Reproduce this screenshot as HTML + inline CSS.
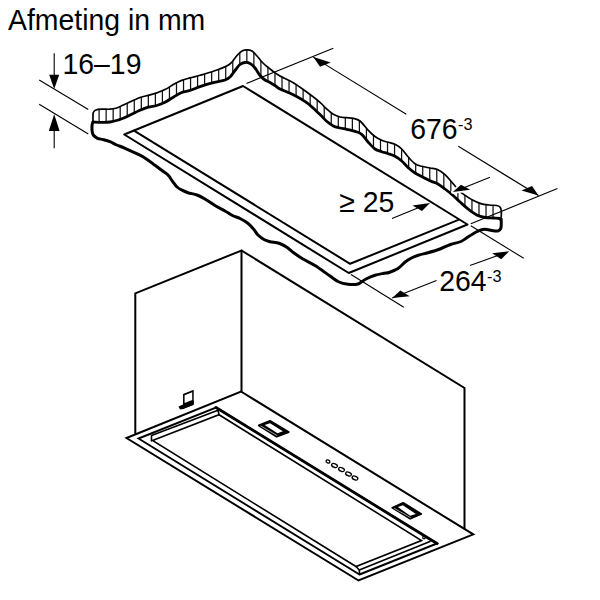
<!DOCTYPE html>
<html><head><meta charset="utf-8"><style>
html,body{margin:0;padding:0;background:#fff;width:600px;height:600px;overflow:hidden}
svg{display:block}
</style></head><body>
<svg width="600" height="600" viewBox="0 0 600 600">
<defs><clipPath id="band"><path d="M93.00,122.00 C93.00,121.17 92.95,118.58 93.00,117.00 C93.05,115.42 92.83,113.67 93.30,112.50 C93.77,111.33 94.40,110.55 95.80,110.00 C97.20,109.45 99.33,109.33 101.70,109.20 C104.07,109.07 107.65,109.35 110.00,109.20 C112.35,109.05 114.00,108.79 115.80,108.30 C117.60,107.81 119.27,106.93 120.80,106.25 C122.33,105.57 121.80,105.66 125.00,104.20 C128.20,102.74 136.12,98.97 140.00,97.50 C143.88,96.03 145.52,96.17 148.30,95.40 C151.08,94.63 153.92,93.87 156.70,92.90 C159.48,91.93 162.23,90.98 165.00,89.60 C167.77,88.22 170.52,86.13 173.30,84.60 C176.08,83.07 178.92,81.52 181.70,80.40 C184.48,79.28 186.95,78.75 190.00,77.90 C193.05,77.05 196.12,76.40 200.00,75.30 C203.88,74.20 208.85,72.85 213.30,71.30 C217.75,69.75 223.58,67.55 226.70,66.00 C229.82,64.45 230.28,63.75 232.00,62.00 C233.72,60.25 235.33,57.33 237.00,55.50 C238.67,53.67 240.33,51.95 242.00,51.00 C243.67,50.05 245.33,49.80 247.00,49.80 C248.67,49.80 250.33,49.97 252.00,51.00 C253.67,52.03 255.33,54.17 257.00,56.00 C258.67,57.83 260.33,60.25 262.00,62.00 C263.67,63.75 265.33,65.08 267.00,66.50 C268.67,67.92 269.83,68.92 272.00,70.50 C274.17,72.08 276.45,73.97 280.00,76.00 C283.55,78.03 288.85,80.03 293.30,82.70 C297.75,85.37 302.25,88.73 306.70,92.00 C311.15,95.27 316.67,99.47 320.00,102.30 C323.33,105.13 324.48,107.00 326.70,109.00 C328.92,111.00 331.08,112.97 333.30,114.30 C335.52,115.63 337.77,116.43 340.00,117.00 C342.23,117.57 344.48,117.48 346.70,117.70 C348.92,117.92 351.08,117.75 353.30,118.30 C355.52,118.85 357.50,119.00 360.00,121.00 C362.50,123.00 365.80,127.72 368.30,130.30 C370.80,132.88 372.77,134.83 375.00,136.50 C377.23,138.17 379.48,139.33 381.70,140.30 C383.92,141.27 386.08,141.63 388.30,142.30 C390.52,142.97 392.77,143.18 395.00,144.30 C397.23,145.42 399.48,146.88 401.70,149.00 C403.92,151.12 406.08,154.55 408.30,157.00 C410.52,159.45 412.77,162.15 415.00,163.70 C417.23,165.25 419.20,165.58 421.70,166.30 C424.20,167.02 427.37,167.47 430.00,168.00 C432.63,168.53 435.00,168.38 437.50,169.50 C440.00,170.62 442.50,172.45 445.00,174.70 C447.50,176.95 450.00,180.20 452.50,183.00 C455.00,185.80 457.78,189.37 460.00,191.50 C462.22,193.63 463.72,194.38 465.80,195.80 C467.88,197.22 470.00,198.70 472.50,200.00 C475.00,201.30 478.02,202.77 480.80,203.60 C483.58,204.43 486.55,204.68 489.20,205.00 C491.85,205.32 494.90,205.17 496.70,205.50 C498.50,205.83 499.24,206.17 500.00,207.00 C500.76,207.83 501.04,208.83 501.25,210.50 C501.46,212.17 501.25,215.92 501.25,217.00 L501.25,219 L499,218.3 L493.3,218 L485,217.5 L476.7,215 L468.3,209.2 L460,202 L452.5,195 L445,189 L437.5,183.7 L430,180.7 L415,173 L408.3,167.7 L401.7,161 L395,156.3 L388.3,153.7 L381.7,151.7 L375,149 L368.3,142.3 L361.7,134.3 L355,131.3 L346.7,129.3 L340,128 L333.3,126 L326.7,121.3 L320,114.5 L306.7,102.7 L293.3,94.7 L280,89 L275,85.5 L270,82.5 L265,80 L260,75.5 L255,68 L250,63.5 L245,62.5 L240,64.5 L235,70.5 L230,77 L225,80 L213.3,82.7 L200,86.7 L190,90.4 L181.7,92.5 L173.3,97.2 L165,102.3 L156.7,105.5 L148.3,107.1 L140,110.3 L125,117.5 L118.3,120 L110,122 L101.7,122.3 L93,122 Z"/></clipPath></defs>
<g fill="none" stroke="#000" stroke-linecap="round" stroke-linejoin="round">
 <!-- band hatch -->
 <g clip-path="url(#band)" stroke="#111" stroke-width="1.25"><line x1="99.10" y1="40" x2="99.10" y2="240"/><line x1="106.13" y1="40" x2="106.13" y2="240"/><line x1="113.17" y1="40" x2="113.17" y2="240"/><line x1="120.20" y1="40" x2="120.20" y2="240"/><line x1="127.24" y1="40" x2="127.24" y2="240"/><line x1="134.27" y1="40" x2="134.27" y2="240"/><line x1="141.31" y1="40" x2="141.31" y2="240"/><line x1="148.34" y1="40" x2="148.34" y2="240"/><line x1="155.38" y1="40" x2="155.38" y2="240"/><line x1="162.41" y1="40" x2="162.41" y2="240"/><line x1="169.45" y1="40" x2="169.45" y2="240"/><line x1="176.49" y1="40" x2="176.49" y2="240"/><line x1="183.52" y1="40" x2="183.52" y2="240"/><line x1="190.56" y1="40" x2="190.56" y2="240"/><line x1="197.59" y1="40" x2="197.59" y2="240"/><line x1="204.62" y1="40" x2="204.62" y2="240"/><line x1="211.66" y1="40" x2="211.66" y2="240"/><line x1="218.69" y1="40" x2="218.69" y2="240"/><line x1="225.73" y1="40" x2="225.73" y2="240"/><line x1="232.76" y1="40" x2="232.76" y2="240"/><line x1="239.80" y1="40" x2="239.80" y2="240"/><line x1="246.84" y1="40" x2="246.84" y2="240"/><line x1="253.87" y1="40" x2="253.87" y2="240"/><line x1="260.90" y1="40" x2="260.90" y2="240"/><line x1="267.94" y1="40" x2="267.94" y2="240"/><line x1="274.98" y1="40" x2="274.98" y2="240"/><line x1="282.01" y1="40" x2="282.01" y2="240"/><line x1="289.04" y1="40" x2="289.04" y2="240"/><line x1="296.08" y1="40" x2="296.08" y2="240"/><line x1="303.12" y1="40" x2="303.12" y2="240"/><line x1="310.15" y1="40" x2="310.15" y2="240"/><line x1="317.19" y1="40" x2="317.19" y2="240"/><line x1="324.22" y1="40" x2="324.22" y2="240"/><line x1="331.25" y1="40" x2="331.25" y2="240"/><line x1="338.29" y1="40" x2="338.29" y2="240"/><line x1="345.32" y1="40" x2="345.32" y2="240"/><line x1="352.36" y1="40" x2="352.36" y2="240"/><line x1="359.39" y1="40" x2="359.39" y2="240"/><line x1="366.43" y1="40" x2="366.43" y2="240"/><line x1="373.47" y1="40" x2="373.47" y2="240"/><line x1="380.50" y1="40" x2="380.50" y2="240"/><line x1="387.53" y1="40" x2="387.53" y2="240"/><line x1="394.57" y1="40" x2="394.57" y2="240"/><line x1="401.61" y1="40" x2="401.61" y2="240"/><line x1="408.64" y1="40" x2="408.64" y2="240"/><line x1="415.67" y1="40" x2="415.67" y2="240"/><line x1="422.71" y1="40" x2="422.71" y2="240"/><line x1="429.75" y1="40" x2="429.75" y2="240"/><line x1="436.78" y1="40" x2="436.78" y2="240"/><line x1="443.82" y1="40" x2="443.82" y2="240"/><line x1="450.85" y1="40" x2="450.85" y2="240"/><line x1="457.88" y1="40" x2="457.88" y2="240"/><line x1="464.92" y1="40" x2="464.92" y2="240"/><line x1="471.96" y1="40" x2="471.96" y2="240"/><line x1="478.99" y1="40" x2="478.99" y2="240"/><line x1="486.02" y1="40" x2="486.02" y2="240"/><line x1="493.06" y1="40" x2="493.06" y2="240"/></g>
 <path d="M93.00,122.00 C93.00,121.17 92.95,118.58 93.00,117.00 C93.05,115.42 92.83,113.67 93.30,112.50 C93.77,111.33 94.40,110.55 95.80,110.00 C97.20,109.45 99.33,109.33 101.70,109.20 C104.07,109.07 107.65,109.35 110.00,109.20 C112.35,109.05 114.00,108.79 115.80,108.30 C117.60,107.81 119.27,106.93 120.80,106.25 C122.33,105.57 121.80,105.66 125.00,104.20 C128.20,102.74 136.12,98.97 140.00,97.50 C143.88,96.03 145.52,96.17 148.30,95.40 C151.08,94.63 153.92,93.87 156.70,92.90 C159.48,91.93 162.23,90.98 165.00,89.60 C167.77,88.22 170.52,86.13 173.30,84.60 C176.08,83.07 178.92,81.52 181.70,80.40 C184.48,79.28 186.95,78.75 190.00,77.90 C193.05,77.05 196.12,76.40 200.00,75.30 C203.88,74.20 208.85,72.85 213.30,71.30 C217.75,69.75 223.58,67.55 226.70,66.00 C229.82,64.45 230.28,63.75 232.00,62.00 C233.72,60.25 235.33,57.33 237.00,55.50 C238.67,53.67 240.33,51.95 242.00,51.00 C243.67,50.05 245.33,49.80 247.00,49.80 C248.67,49.80 250.33,49.97 252.00,51.00 C253.67,52.03 255.33,54.17 257.00,56.00 C258.67,57.83 260.33,60.25 262.00,62.00 C263.67,63.75 265.33,65.08 267.00,66.50 C268.67,67.92 269.83,68.92 272.00,70.50 C274.17,72.08 276.45,73.97 280.00,76.00 C283.55,78.03 288.85,80.03 293.30,82.70 C297.75,85.37 302.25,88.73 306.70,92.00 C311.15,95.27 316.67,99.47 320.00,102.30 C323.33,105.13 324.48,107.00 326.70,109.00 C328.92,111.00 331.08,112.97 333.30,114.30 C335.52,115.63 337.77,116.43 340.00,117.00 C342.23,117.57 344.48,117.48 346.70,117.70 C348.92,117.92 351.08,117.75 353.30,118.30 C355.52,118.85 357.50,119.00 360.00,121.00 C362.50,123.00 365.80,127.72 368.30,130.30 C370.80,132.88 372.77,134.83 375.00,136.50 C377.23,138.17 379.48,139.33 381.70,140.30 C383.92,141.27 386.08,141.63 388.30,142.30 C390.52,142.97 392.77,143.18 395.00,144.30 C397.23,145.42 399.48,146.88 401.70,149.00 C403.92,151.12 406.08,154.55 408.30,157.00 C410.52,159.45 412.77,162.15 415.00,163.70 C417.23,165.25 419.20,165.58 421.70,166.30 C424.20,167.02 427.37,167.47 430.00,168.00 C432.63,168.53 435.00,168.38 437.50,169.50 C440.00,170.62 442.50,172.45 445.00,174.70 C447.50,176.95 450.00,180.20 452.50,183.00 C455.00,185.80 457.78,189.37 460.00,191.50 C462.22,193.63 463.72,194.38 465.80,195.80 C467.88,197.22 470.00,198.70 472.50,200.00 C475.00,201.30 478.02,202.77 480.80,203.60 C483.58,204.43 486.55,204.68 489.20,205.00 C491.85,205.32 494.90,205.17 496.70,205.50 C498.50,205.83 499.24,206.17 500.00,207.00 C500.76,207.83 501.04,208.83 501.25,210.50 C501.46,212.17 501.25,215.92 501.25,217.00" stroke-width="1.7"/>
 <path d="M93.00,122.00 C92.85,122.50 92.25,123.53 92.10,125.00 C91.95,126.47 91.90,129.13 92.10,130.80 C92.30,132.47 92.40,133.75 93.30,135.00 C94.20,136.25 95.83,137.53 97.50,138.30 C99.17,139.07 101.22,139.03 103.30,139.60 C105.38,140.17 107.77,140.80 110.00,141.70 C112.23,142.60 114.20,143.90 116.70,145.00 C119.20,146.10 121.12,146.60 125.00,148.30 C128.88,150.00 136.25,153.30 140.00,155.20 C143.75,157.10 145.00,158.02 147.50,159.70 C150.00,161.38 152.58,163.50 155.00,165.30 C157.42,167.10 159.83,168.88 162.00,170.50 C164.17,172.12 166.17,173.08 168.00,175.00 C169.83,176.92 171.50,180.00 173.00,182.00 C174.50,184.00 175.50,185.63 177.00,187.00 C178.50,188.37 180.17,189.25 182.00,190.20 C183.83,191.15 185.50,191.90 188.00,192.70 C190.50,193.50 194.25,194.00 197.00,195.00 C199.75,196.00 201.50,196.95 204.50,198.70 C207.50,200.45 211.58,203.45 215.00,205.50 C218.42,207.55 222.08,209.33 225.00,211.00 C227.92,212.67 230.00,214.25 232.50,215.50 C235.00,216.75 237.50,217.25 240.00,218.50 C242.50,219.75 245.25,221.25 247.50,223.00 C249.75,224.75 251.75,227.00 253.50,229.00 C255.25,231.00 256.25,233.25 258.00,235.00 C259.75,236.75 262.00,238.38 264.00,239.50 C266.00,240.62 267.50,241.08 270.00,241.70 C272.50,242.32 276.25,242.32 279.00,243.20 C281.75,244.08 284.00,245.37 286.50,247.00 C289.00,248.63 291.25,251.00 294.00,253.00 C296.75,255.00 299.50,256.92 303.00,259.00 C306.50,261.08 310.50,262.67 315.00,265.50 C319.50,268.33 326.00,273.25 330.00,276.00 C334.00,278.75 336.00,280.62 339.00,282.00 C342.00,283.38 345.00,283.88 348.00,284.25 C351.00,284.62 354.75,284.62 357.00,284.25 C359.25,283.88 360.00,282.88 361.50,282.00 C363.00,281.12 363.75,280.12 366.00,279.00 C368.25,277.88 372.00,276.25 375.00,275.30 C378.00,274.35 381.67,273.77 384.00,273.30 C386.33,272.83 386.67,273.30 389.00,272.50 C391.33,271.70 395.25,270.29 398.00,268.50 C400.75,266.71 403.25,263.50 405.50,261.75 C407.75,260.00 409.25,259.12 411.50,258.00 C413.75,256.88 416.25,255.88 419.00,255.00 C421.75,254.12 424.50,253.75 428.00,252.75 C431.50,251.75 436.25,250.38 440.00,249.00 C443.75,247.62 447.00,245.75 450.50,244.50 C454.00,243.25 458.03,242.80 461.00,241.50 C463.97,240.20 465.68,238.33 468.30,236.70 C470.92,235.07 474.62,232.82 476.70,231.70 C478.78,230.58 479.42,230.42 480.80,230.00 C482.18,229.58 482.92,229.07 485.00,229.20 C487.08,229.33 491.08,230.53 493.30,230.80 C495.52,231.07 497.05,231.22 498.30,230.80 C499.55,230.38 500.31,229.40 500.80,228.30 C501.29,227.20 501.22,225.58 501.25,224.20 C501.28,222.82 501.38,220.98 501.00,220.00 C500.62,219.02 499.33,218.58 499.00,218.30" stroke-width="3"/>
 <path d="M93.00,122.00 C94.45,122.05 98.87,122.30 101.70,122.30 C104.53,122.30 107.23,122.38 110.00,122.00 C112.77,121.62 115.80,120.75 118.30,120.00 C120.80,119.25 121.38,119.12 125.00,117.50 C128.62,115.88 136.12,112.03 140.00,110.30 C143.88,108.57 145.52,107.90 148.30,107.10 C151.08,106.30 153.92,106.30 156.70,105.50 C159.48,104.70 162.23,103.68 165.00,102.30 C167.77,100.92 170.52,98.83 173.30,97.20 C176.08,95.57 178.92,93.63 181.70,92.50 C184.48,91.37 186.95,91.37 190.00,90.40 C193.05,89.43 196.12,87.98 200.00,86.70 C203.88,85.42 209.13,83.82 213.30,82.70 C217.47,81.58 222.22,80.95 225.00,80.00 C227.78,79.05 228.33,78.58 230.00,77.00 C231.67,75.42 233.33,72.58 235.00,70.50 C236.67,68.42 238.33,65.83 240.00,64.50 C241.67,63.17 243.33,62.67 245.00,62.50 C246.67,62.33 248.33,62.58 250.00,63.50 C251.67,64.42 253.33,66.00 255.00,68.00 C256.67,70.00 258.33,73.50 260.00,75.50 C261.67,77.50 263.33,78.83 265.00,80.00 C266.67,81.17 268.33,81.58 270.00,82.50 C271.67,83.42 273.33,84.42 275.00,85.50 C276.67,86.58 276.95,87.47 280.00,89.00 C283.05,90.53 288.85,92.42 293.30,94.70 C297.75,96.98 302.25,99.40 306.70,102.70 C311.15,106.00 316.67,111.40 320.00,114.50 C323.33,117.60 324.48,119.38 326.70,121.30 C328.92,123.22 331.08,124.88 333.30,126.00 C335.52,127.12 337.77,127.45 340.00,128.00 C342.23,128.55 344.20,128.75 346.70,129.30 C349.20,129.85 352.50,130.47 355.00,131.30 C357.50,132.13 359.48,132.47 361.70,134.30 C363.92,136.13 366.08,139.85 368.30,142.30 C370.52,144.75 372.77,147.43 375.00,149.00 C377.23,150.57 379.48,150.92 381.70,151.70 C383.92,152.48 386.08,152.93 388.30,153.70 C390.52,154.47 392.77,155.08 395.00,156.30 C397.23,157.52 399.48,159.10 401.70,161.00 C403.92,162.90 406.08,165.70 408.30,167.70 C410.52,169.70 411.38,170.83 415.00,173.00 C418.62,175.17 426.25,178.92 430.00,180.70 C433.75,182.48 435.00,182.32 437.50,183.70 C440.00,185.08 442.50,187.12 445.00,189.00 C447.50,190.88 450.00,192.83 452.50,195.00 C455.00,197.17 457.37,199.63 460.00,202.00 C462.63,204.37 465.52,207.03 468.30,209.20 C471.08,211.37 473.92,213.62 476.70,215.00 C479.48,216.38 482.23,217.00 485.00,217.50 C487.77,218.00 490.97,217.87 493.30,218.00 C495.63,218.13 497.68,218.13 499.00,218.30 C500.32,218.47 500.88,218.88 501.25,219.00" stroke-width="2.8"/>
 <!-- opening -->
 <polygon points="124.25,134.50 243.00,86.00 467.50,224.50 348.75,273.00" stroke-width="2"/>
 <polyline points="134.00,130.60 350.10,263.80 458.40,219.90" stroke-width="2"/>
 <!-- hood box -->
 <polyline points="135.30,433.50 135.30,293.40 241.50,250.50 464.50,388.00 464.50,528.50" stroke-width="2" stroke-linejoin="miter"/>
 <line x1="241.5" y1="250.5" x2="241.5" y2="391.5" stroke-width="2"/>
 <polygon points="126.50,438.00 241.00,391.50 473.30,534.40 358.50,580.50" stroke-width="2" stroke-linejoin="miter"/>
 <polygon points="359.50,574.50 437.00,543.50 216.00,407.50 138.50,438.50" stroke-width="1.9" stroke-linejoin="miter"/>
 <line x1="216" y1="407.5" x2="437" y2="543.5" stroke-width="2.8"/>
 <polygon points="152.50,440.50 219.00,414.70 421.50,540.50 356.00,566.50" stroke-width="1.6" stroke-linejoin="miter"/>
 <!-- rims -->
 <polyline points="151.5,441 151.5,435.5 218,410.3 219,414.7" stroke-width="1.6"/>
 <polyline points="356,566.5 359.3,570 359.5,574.5" stroke-width="1.6"/>
 <line x1="359.3" y1="570" x2="430" y2="541.6" stroke-width="1.6"/>
 <circle cx="424" cy="537.5" r="1.3" stroke-width="1.2"/>
 <!-- switches -->
 <polygon points="258.75,425.4 270,420.8 288.75,432.1 276.7,436.7" stroke-width="1.8" fill="#000"/>
 <line x1="261" y1="426.2" x2="276.9" y2="435.4" stroke="#fff" stroke-width="0.6"/>
 <polygon points="264.6,425 270,423.3 282.9,431.25 277.5,433.3" stroke="none" fill="#fff"/>
 <polygon points="392.3,507.7 403.1,502.8 421.3,513.9 410.2,518.8" stroke-width="1.8" fill="#000"/>
 <line x1="394.3" y1="508.4" x2="410.3" y2="517.5" stroke="#fff" stroke-width="0.6"/>
 <polygon points="397.9,507.1 402.8,505.2 415.8,513.9 410.2,515.7" stroke="none" fill="#fff"/>
 <!-- buttons -->
 <g stroke-width="1.3">
  <ellipse cx="328" cy="461.5" rx="2" ry="1.4" transform="rotate(22 328 461.5)"/>
  <ellipse cx="334.5" cy="465.5" rx="3" ry="1.8" transform="rotate(22 334.5 465.5)"/>
  <ellipse cx="341.5" cy="469.5" rx="3" ry="1.8" transform="rotate(22 341.5 469.5)"/>
  <ellipse cx="348.5" cy="474" rx="3" ry="1.8" transform="rotate(22 348.5 474)"/>
  <ellipse cx="355" cy="478" rx="3" ry="1.8" transform="rotate(22 355 478)"/>
 </g>
</g>
<!-- bracket -->
<polygon points="183,394 193.7,389.7 193.7,404.7 183,409" fill="#000"/>
<polygon points="184.6,395.3 192.2,392.2 192.2,400 184.6,403" fill="#fff"/>
<polygon points="178.5,406.5 183,404.5 193.7,400.5 193.7,404.7 183,409 180,409.5" fill="#000"/>
<!-- dimension lines -->
<polygon points="452.8,192 461,184.7 470.2,189.7" fill="#fff" stroke="#fff" stroke-width="3.5" stroke-linejoin="round"/>
<g stroke="#000" stroke-width="1.1" fill="none">
 <line x1="54.2" y1="53.3" x2="54.2" y2="80.5"/>
 <line x1="54.2" y1="125" x2="54.2" y2="148.3"/>
 <line x1="39.2" y1="80" x2="88.3" y2="109.5"/>
 <line x1="39.2" y1="104.2" x2="88.3" y2="134"/>
 <line x1="246.5" y1="83.5" x2="333.3" y2="48.3"/>
 <line x1="313.3" y1="57.1" x2="406.3" y2="114.3"/>
 <line x1="458.3" y1="146.2" x2="538.5" y2="195.5"/>
 <line x1="470.8" y1="223.75" x2="557.5" y2="188.5"/>
 <line x1="392" y1="218.5" x2="425" y2="205"/>
 <line x1="490" y1="177.3" x2="462" y2="188.5"/>
 <line x1="351" y1="274.5" x2="403.8" y2="307.3"/>
 <line x1="470.8" y1="225.8" x2="523.75" y2="258.3"/>
 <line x1="392.2" y1="298" x2="436.5" y2="280.5"/>
 <line x1="470" y1="265.5" x2="505" y2="252.9"/>
</g>
<g fill="#000">
 <polygon points="54.2,89 49.2,74.8 59.2,74.8"/>
 <polygon points="54.2,114.2 48.8,131 59.6,131"/>
 <polygon points="313.3,57.1 330.8,62.5 320,66.7"/>
 <polygon points="538.5,195.5 521.5,190.5 532,186"/>
 <polygon points="430,203 412.5,205.5 422,211"/>
 <polygon points="452.8,192 461,184.7 470.2,189.7"/>
 <polygon points="392.2,298 400.3,290.4 409.7,296.25"/>
 <polygon points="509.2,251.25 492.1,253.3 501.25,259.2"/>
</g>
<g font-family="Liberation Sans, sans-serif" fill="#000">
 <text transform="translate(8,30) scale(1,1.05)" font-size="28.4">Afmeting in mm</text>
 <text transform="translate(62.5,74.3) scale(1,1.06)" font-size="28.4">16–19</text>
 <text transform="translate(410.3,139) scale(1,1.06)" font-size="28.4">676</text>
 <text transform="translate(458.1,129.5) scale(1.04,1)" font-size="15.6">-3</text>
 <text transform="translate(339.2,212.4) scale(1,1.06)" font-size="28.4">≥ 25</text>
 <text transform="translate(439.3,291.3) scale(1,1.06)" font-size="28.4">264</text>
 <text transform="translate(487.1,281.9) scale(1.04,1)" font-size="15.6">-3</text>
</g>
</svg>
</body></html>
